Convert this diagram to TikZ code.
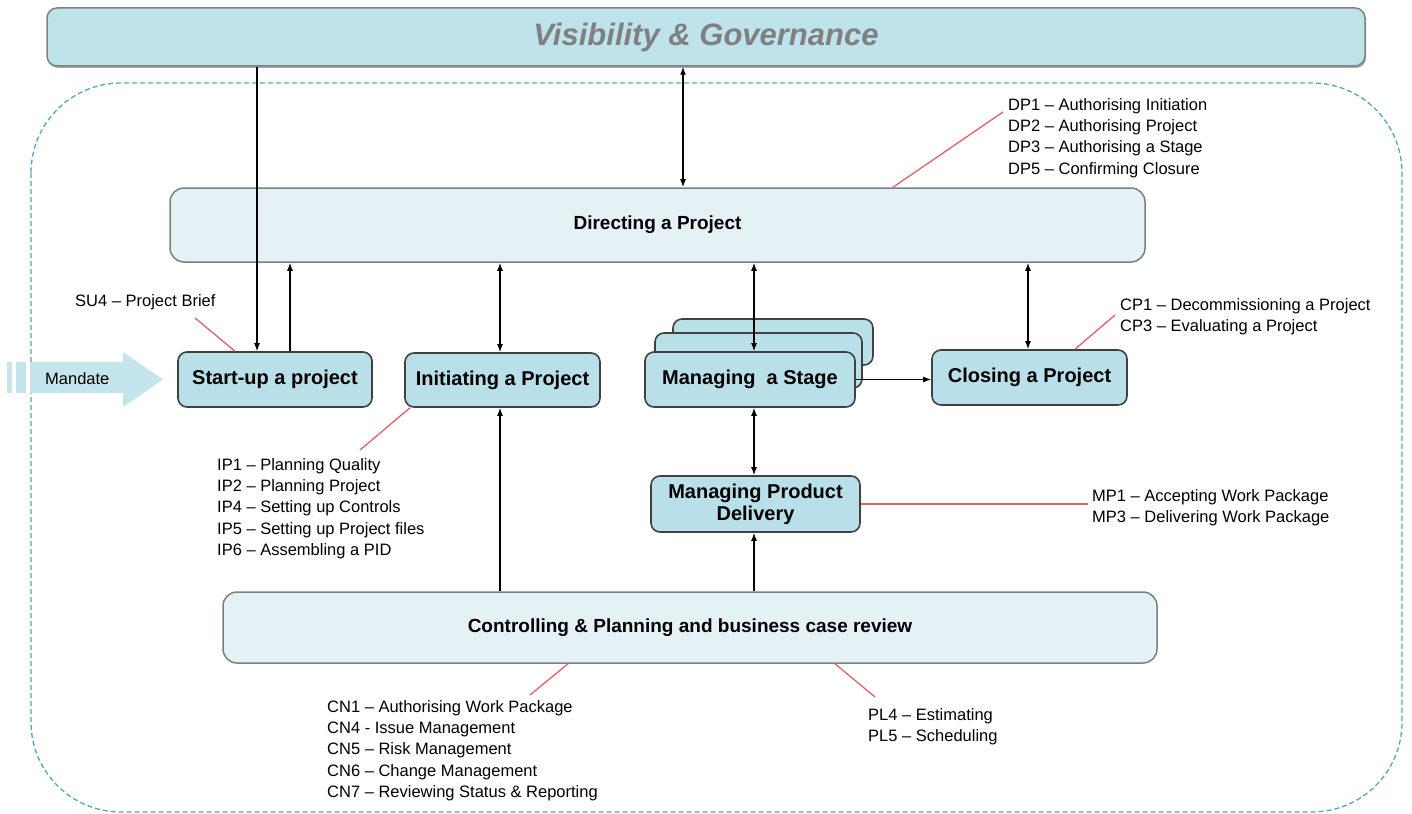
\documentclass[tikz,border=0pt]{standalone}
\usepackage{fontspec}
\setmainfont{Liberation Sans}
\usetikzlibrary{arrows.meta}

\definecolor{procblue}{RGB}{185,224,233}
\definecolor{paleblue}{RGB}{228,241,245}
\definecolor{bannerblue}{RGB}{191,227,235}
\definecolor{dashteal}{RGB}{80,168,182}
\definecolor{calloutred}{RGB}{226,96,100}
\definecolor{edgegray}{RGB}{120,128,132}

\tikzset{
  procbox/.style={draw=black!75, line width=1.6pt, fill=procblue, rounded corners=9pt,
    font=\bfseries\fontsize{20}{22}\selectfont, align=center, inner sep=0pt},
  widebox/.style={draw=edgegray, line width=1.5pt, fill=paleblue, rounded corners=14pt,
    font=\bfseries\fontsize{19}{22}\selectfont, inner sep=0pt},
  flow/.style={line width=1.3pt, -{Latex[length=8pt,width=6pt]}},
  twoway/.style={line width=1.3pt, {Latex[length=8pt,width=6pt]}-{Latex[length=8pt,width=6pt]}},
  callout/.style={calloutred, line width=1.3pt},
  notes/.style={anchor=north west, align=left, inner sep=0pt, font=\fontsize{16.5}{21.3}\selectfont},
}

\begin{document}
\begin{tikzpicture}[x=1pt, y=-1pt]
	\useasboundingbox (0,0) rectangle (1412,813);

	% Outer dashed frame
	\draw[dashteal, line width=1.3pt, dash pattern=on 5pt off 3pt, rounded corners=90pt]
		(31,83) rectangle (1402,812);

	% Banner on top
	\fill[gray!70, rounded corners=10pt] (48,11) rectangle (1366,68);
	\node[widebox, minimum width=1318pt, minimum height=58pt, fill=bannerblue, draw=gray,
		rounded corners=10pt, text=gray, font=\bfseries\itshape\fontsize{31}{34}\selectfont]
		(vg) at (706,37) {Visibility \& Governance};

	% Wide process bars
	\node[widebox, minimum width=975pt, minimum height=74pt] (dir) at (657.5,225) {Directing a Project};
	\node[widebox, minimum width=934pt, minimum height=71pt] (cn) at (690,627.5) {Controlling \& Planning and business case review};

	% Mandate arrow
	\fill[procblue!85] (7,362) rectangle (12,393);
	\fill[procblue!85] (16,362) rectangle (26,393);
	\fill[procblue!85] (30,362) -- (123,362) -- (123,352) -- (163,379.5) -- (123,407) -- (123,393) -- (30,393) -- cycle;
	\node[anchor=west, inner sep=0pt, font=\fontsize{16.5}{18}\selectfont] (mandate) at (45,379) {Mandate};

	% Process boxes
	\node[procbox, minimum width=194pt, minimum height=55pt] (su) at (275,379.5) {Start-up a project};
	\node[procbox, minimum width=195pt, minimum height=54pt] (ip) at (502.5,380) {Initiating a Project};
	\node[procbox, minimum width=200pt, minimum height=46pt] (ms3) at (773,342) {};
	\node[procbox, minimum width=207pt, minimum height=55pt] (ms2) at (758.5,360.5) {};
	\node[procbox, minimum width=210pt, minimum height=55pt] (ms) at (750,379.5) {Managing\ \ a Stage};
	\node[procbox, minimum width=195pt, minimum height=55pt] (cp) at (1029.5,377.5) {Closing a Project};
	\node[procbox, minimum width=209pt, minimum height=56pt] (mpd) at (755.5,504) {Managing Product\\Delivery};

	% Connectors
	\draw[flow] (257,0 |- vg.south) -- (257,0 |- su.north);
	\draw[flow] (290,0 |- su.north) -- (290,0 |- dir.south);
	\draw[twoway] (683,0 |- vg.south) -- (683,0 |- dir.north);
	\draw[twoway] (500,0 |- dir.south) -- (500,0 |- ip.north);
	\draw[twoway] (754,0 |- dir.south) -- (754,0 |- ms.north);
	\draw[twoway] (1028,0 |- dir.south) -- (1028,0 |- cp.north);
	\draw[flow] (ms.east) -- (ms.east -| cp.west);
	\draw[twoway] (754,0 |- ms.south) -- (754,0 |- mpd.north);
	\draw[flow] (500,0 |- cn.north) -- (500,0 |- ip.south);
	\draw[flow] (754,0 |- cn.north) -- (754,0 |- mpd.south);

	% Sub-process lists
	\node[notes] (dplist) at (1008,98) {DP1 – Authorising Initiation\\DP2 – Authorising Project\\DP3 – Authorising a Stage\\DP5 – Confirming Closure};
	\node[notes] (sulist) at (75,294) {SU4 – Project Brief};
	\node[notes] (iplist) at (217,458) {IP1 – Planning Quality\\IP2 – Planning Project\\IP4 – Setting up Controls\\IP5 – Setting up Project files\\IP6 – Assembling a PID};
	\node[notes] (cplist) at (1120,298) {CP1 – Decommissioning a Project\\CP3 – Evaluating a Project};
	\node[notes] (mplist) at (1092,489) {MP1 – Accepting Work Package\\MP3 – Delivering Work Package};
	\node[notes] (cnlist) at (327,700) {CN1 – Authorising Work Package\\CN4 - Issue Management\\CN5 – Risk Management\\CN6 – Change Management\\CN7 – Reviewing Status \& Reporting};
	\node[notes] (pllist) at (868,708) {PL4 – Estimating\\PL5 – Scheduling};

	% Callout ends
	\coordinate (dpend) at (1003,112);
	\coordinate (suend) at (195,318);
	\coordinate (ipend) at (360,450);
	\coordinate (cpend) at (1115,315);
	\coordinate (mpend) at (1088,504);
	\coordinate (cnend) at (530,695);
	\coordinate (plend) at (875,697);

	% Red callout lines
	\draw[callout] (893,0 |- dir.north) -- (dpend);
	\draw[callout] (235,0 |- su.north) -- (suend);
	\draw[callout] (410,0 |- ip.south) -- (ipend);
	\draw[callout] (1075,0 |- cp.north) -- (cpend);
	\draw[callout] (mpd.east) -- (mpend);
	\draw[callout] (568,0 |- cn.south) -- (cnend);
	\draw[callout] (835,0 |- cn.south) -- (plend);
\end{tikzpicture}
\end{document}
